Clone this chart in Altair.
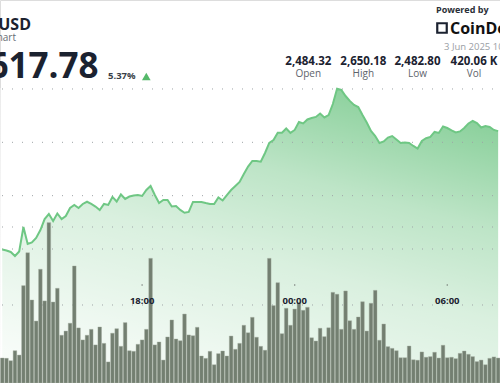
import altair as alt
import pandas as pd

# 10-minute volume bars (thousands)
volume_k = [1.60, 1.58, 1.43, 2.07, 1.79, 6.24, 8.35, 5.32, 3.97, 7.29, 5.26,
            10.28, 5.19, 6.07, 3.06, 3.33, 3.83, 7.50, 3.53, 2.76, 3.06,
            3.44, 2.44, 3.59, 2.54, 1.35, 3.19, 3.48, 2.35, 3.87, 2.07,
            2.03, 2.48, 2.76, 3.44, 7.99, 2.44, 2.63, 1.47, 2.95, 4.04,
            2.82, 2.71, 4.42, 3.08, 3.03, 3.57, 1.73, 1.58, 2.03, 1.17,
            1.88, 2.05, 1.73, 3.01, 2.16, 2.54, 3.70, 3.22, 4.21, 2.93,
            2.35, 2.10, 7.99, 4.96, 6.43, 3.16, 4.79, 3.70, 4.74, 5.15,
            4.66, 4.85, 2.90, 2.69, 3.51, 2.97, 3.54, 5.81, 5.69, 3.44,
            5.90, 3.99, 3.44, 4.23, 5.21, 3.33, 5.11, 5.94, 2.74, 3.78,
            2.33, 2.22, 2.07, 1.62, 1.62, 2.37, 1.49, 1.46, 1.99, 1.65,
            1.69, 1.97, 1.60, 2.42, 1.62, 1.65, 1.56, 1.90, 2.05, 1.84,
            1.69, 1.37, 1.47, 1.17, 1.58, 1.67, 1.60]

# price at each 10-minute step
price = [2499.5, 2498.6, 2497.2, 2493.4, 2497.7, 2520.6, 2504.7, 2506.1, 2510.3, 2517.8, 2528.1,
         2532.8, 2526.3, 2533.3, 2528.1, 2530.9, 2538.4, 2541.3, 2538.4, 2542.2, 2544.3,
         2542.2, 2539.8, 2536.6, 2542.2, 2541.3, 2548.8, 2544.5, 2551.1, 2546.9, 2549.2,
         2550.2, 2550.6, 2549.7, 2555.3, 2559.1, 2550.6, 2543.1, 2545.9, 2545.9, 2539.8,
         2540.3, 2536.6, 2534.0, 2534.7, 2544.1, 2544.1, 2544.1, 2543.1, 2542.2, 2542.2,
         2548.3, 2545.5, 2550.6, 2555.3, 2559.1, 2562.8, 2570.3, 2577.3, 2582.5, 2582.5,
         2581.8, 2590.0, 2599.4, 2602.2, 2609.0, 2609.0, 2613.0, 2608.8, 2611.6, 2619.1,
         2617.7, 2621.4, 2622.8, 2623.8, 2627.0, 2623.3, 2625.6, 2635.9, 2650.18, 2649.1,
         2643.4, 2638.8, 2635.0, 2633.1, 2625.6, 2618.6, 2610.6, 2605.9, 2599.4, 2600.8,
         2604.5, 2605.9, 2602.7, 2599.4, 2599.8, 2599.4, 2596.6, 2594.2, 2601.3, 2603.8,
         2605.0, 2609.7, 2608.8, 2614.8, 2613.4, 2611.1, 2609.2, 2610.2, 2613.4, 2617.7,
         2620.0, 2618.1, 2613.9, 2615.3, 2614.4, 2611.6, 2610.5]

price_grid = [2500, 2550, 2600, 2650]
volume_grid = [5, 10]
tick_times = ["2025-06-02T18:00:00", "2025-06-03T00:00:00", "2025-06-03T06:00:00"]
tick_labels = ["18:00", "00:00", "06:00"]

stat_values = ["2,484.32", "2,650.18", "2,482.80", "420.06 K"]
stat_names = ["Open", "High", "Low", "Vol"]

assert len(volume_k) == len(price)
start = pd.Timestamp("2025-06-02 12:30")
times = [start + pd.Timedelta(minutes=10 * i) for i in range(len(price))]
df = pd.DataFrame({"time": times, "price": price, "vol": volume_k})
ticks_df = pd.DataFrame({"time": pd.to_datetime(tick_times), "label": tick_labels})

W, H = 500, 383
FONT = "Open Sans"
NAVY = "#1b2230"

x_dom = [alt.DateTime(year=2025, month=6, date=2, hours=12, minutes=36, seconds=30),
         alt.DateTime(year=2025, month=6, date=3, hours=7, minutes=52, seconds=36)]
X = alt.X("time:T", scale=alt.Scale(domain=x_dom), axis=None)
p_scale = alt.Scale(domain=[2374.4, 2733.4], zero=False, nice=False)
v_scale = alt.Scale(domain=[0, 24.55], nice=False)

area = alt.Chart(df).mark_area(line=False, opacity=1, color="#8ad09b").encode(
    x=X, y=alt.Y("price:Q", scale=p_scale, axis=None), y2=alt.value(H))

base = alt.Chart(pd.DataFrame({"a": [0]}))

# white veil that fades the green fill towards the bottom
veil = base.mark_rect(
    color=alt.Gradient(
        gradient="linear",
        stops=[alt.GradientStop(color="rgba(255,255,255,0)", offset=0),
               alt.GradientStop(color="rgba(255,255,255,0.44)", offset=0.3),
               alt.GradientStop(color="rgba(255,255,255,0.68)", offset=0.55),
               alt.GradientStop(color="rgba(255,255,255,0.855)", offset=0.85),
               alt.GradientStop(color="rgba(255,255,255,0.93)", offset=1)],
        x1=0.73, y1=0, x2=0.27, y2=1),
).encode(x=alt.value(0), x2=alt.value(W), y=alt.value(88), y2=alt.value(H))

pgrid = alt.Chart(pd.DataFrame({"p": price_grid})).mark_rule(
    color="#9ea3a6", strokeDash=[1, 9], strokeWidth=1, strokeDashOffset=-7
).encode(y=alt.Y("p:Q", scale=p_scale, axis=None))

vgrid = alt.Chart(pd.DataFrame({"v": volume_grid})).mark_rule(
    color="#9ea3a6", strokeDash=[1, 9], strokeWidth=1, strokeDashOffset=-7
).encode(y=alt.Y("v:Q", scale=v_scale, axis=None))

line = alt.Chart(df).mark_line(color="#6fc784", strokeWidth=2).encode(
    x=X, y=alt.Y("price:Q", scale=p_scale, axis=None))

bars = alt.Chart(df).mark_bar(size=3.6, color="#737f71", stroke="#a2aba0",
                              strokeWidth=0.4).encode(
    x=X, y=alt.Y("vol:Q", scale=v_scale, axis=None))

tick_dots = alt.Chart(ticks_df).mark_point(shape="square", size=1.5, filled=True,
                                           color="#555", opacity=1).encode(
    x=X, y=alt.value(285))
tick_text = alt.Chart(ticks_df).mark_text(font=FONT, fontSize=9.5, fontWeight="bold",
                                          color=NAVY, baseline="alphabetic").encode(
    x=X, y=alt.value(303.5), text="label:N")


def label(txt, x, y, size, weight="normal", color=NAVY, align="left"):
    return base.mark_text(text=txt, font=FONT, fontSize=size, fontWeight=weight,
                          color=color, align=align, baseline="alphabetic").encode(
        x=alt.value(x), y=alt.value(y))

header = [
    label("ETH/USD", 31, 30, 16, "bold", align="right"),
    label("Price chart", 16, 41, 10, color="#666c74", align="right"),
    label("2,617.78", 98.5, 78.3, 35, "bold", align="right"),
    label("5.37%", 108, 78.5, 9.5, "bold", color="#3a3f47"),
    base.mark_point(shape="triangle-up", filled=True, size=75, color="#55b96a",
                    opacity=1).encode(x=alt.value(146.3), y=alt.value(76.5)),
    label("Powered by", 436, 13, 9, "bold", color="#2a2f37"),
    base.mark_point(shape="square", filled=False, size=90, color="#1b2230",
                    strokeWidth=2.2, opacity=1).encode(x=alt.value(442), y=alt.value(28)),
    label("CoinDesk", 450, 33.5, 16, "bold", color="#111"),
    label("3 Jun 2025 10:00 UTC", 444, 50, 9.5, color="#9a9ea4"),
]
centers = [308.3, 363.3, 417.5, 474]
for v, n, c in zip(stat_values, stat_names, centers):
    header.append(label(v, c, 64.5, 11.5, "bold", align="center"))
    header.append(label(n, c, 76.5, 10, color="#5e646c", align="center"))

chart = alt.layer(area, veil, pgrid, vgrid, line, bars, tick_dots, tick_text, *header).resolve_scale(
    y="independent"
).properties(
    width=W, height=H, autosize=alt.AutoSizeParams(type="none"), padding=0
).configure_view(stroke=None).configure(background="white")

chart.save("out.html", embed_options={"renderer": "svg", "actions": False})
